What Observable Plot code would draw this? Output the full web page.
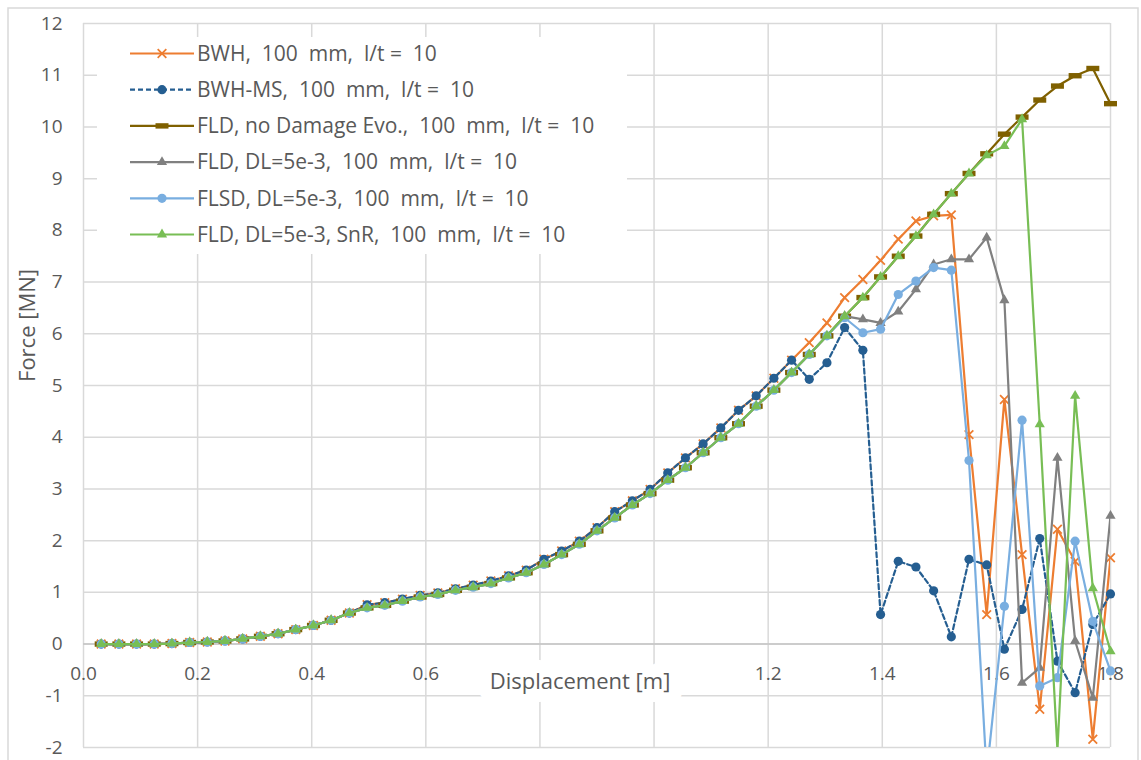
<!DOCTYPE html>
<html><head><meta charset="utf-8">
<script src="https://cdn.jsdelivr.net/npm/d3@7"></script>
<script src="https://cdn.jsdelivr.net/npm/@observablehq/plot@0.6"></script>
<style>
body{margin:0;background:#fff;}
#chart{position:relative;width:1141px;height:760px;overflow:hidden;}
#chart svg{position:absolute;left:0;top:0;}
</style></head><body><div id="chart"></div>
<script>
const displacement = [0.031,0.062,0.093,0.124,0.155,0.186,0.217,0.248,0.279,0.310,0.341,0.372,0.403,0.434,0.466,0.497,0.528,0.559,0.590,0.621,0.652,0.683,0.714,0.745,0.776,0.807,0.838,0.869,0.900,0.931,0.962,0.993,1.024,1.055,1.086,1.117,1.148,1.179,1.210,1.241,1.272,1.303,1.334,1.366,1.397,1.428,1.459,1.490,1.521,1.552,1.583,1.614,1.645,1.676,1.707,1.738,1.769,1.800];

const bwh = [0.00,0.00,0.00,0.00,0.01,0.03,0.04,0.06,0.10,0.15,0.20,0.28,0.36,0.46,0.60,0.76,0.80,0.87,0.94,0.99,1.07,1.14,1.22,1.32,1.43,1.64,1.80,1.99,2.25,2.56,2.77,2.99,3.31,3.60,3.87,4.18,4.52,4.80,5.14,5.49,5.83,6.21,6.70,7.05,7.42,7.83,8.18,8.28,8.30,4.05,0.57,4.73,1.73,-1.26,2.22,1.60,-1.84,1.67];
const bwhMs = [0.00,0.00,0.00,0.00,0.01,0.03,0.04,0.06,0.10,0.15,0.20,0.28,0.36,0.46,0.60,0.76,0.80,0.87,0.94,0.99,1.07,1.14,1.22,1.32,1.43,1.64,1.80,1.99,2.25,2.56,2.77,2.99,3.31,3.60,3.87,4.18,4.52,4.80,5.14,5.49,5.12,5.44,6.12,5.68,0.57,1.60,1.49,1.03,0.14,1.64,1.53,-0.10,0.67,2.04,-0.33,-0.94,0.38,0.97];
const fldNoDamage = [0.00,0.00,0.00,0.00,0.01,0.03,0.04,0.06,0.10,0.15,0.20,0.28,0.36,0.46,0.60,0.70,0.75,0.83,0.91,0.96,1.04,1.10,1.17,1.28,1.38,1.54,1.73,1.93,2.19,2.44,2.69,2.91,3.17,3.41,3.70,3.99,4.26,4.60,4.91,5.25,5.60,5.96,6.34,6.70,7.10,7.50,7.89,8.31,8.71,9.10,9.48,9.86,10.19,10.52,10.79,10.99,11.13,10.45];
const fldDl = [0.00,0.00,0.00,0.00,0.01,0.03,0.04,0.06,0.10,0.15,0.20,0.28,0.36,0.46,0.60,0.70,0.75,0.83,0.91,0.96,1.04,1.10,1.17,1.28,1.38,1.54,1.73,1.93,2.19,2.44,2.69,2.91,3.17,3.41,3.70,3.99,4.26,4.60,4.91,5.25,5.60,5.96,6.34,6.28,6.21,6.43,6.86,7.34,7.44,7.44,7.86,6.65,-0.75,-0.46,3.60,0.06,-1.04,2.48];
const flsdDl = [0.00,0.00,0.00,0.00,0.01,0.03,0.04,0.06,0.10,0.15,0.20,0.28,0.36,0.46,0.60,0.70,0.75,0.83,0.91,0.96,1.04,1.10,1.17,1.28,1.38,1.54,1.73,1.93,2.19,2.44,2.69,2.91,3.17,3.41,3.70,3.99,4.26,4.60,4.91,5.25,5.60,5.96,6.31,6.02,6.09,6.76,7.02,7.28,7.23,3.55,-2.50,0.73,4.33,-0.81,-0.65,1.99,0.44,-0.52];
const fldDlSnr = [0.00,0.00,0.00,0.00,0.01,0.03,0.04,0.06,0.10,0.15,0.20,0.28,0.36,0.46,0.60,0.70,0.75,0.83,0.91,0.96,1.04,1.10,1.17,1.28,1.38,1.54,1.73,1.93,2.19,2.44,2.69,2.91,3.17,3.41,3.70,3.99,4.26,4.60,4.91,5.25,5.60,5.96,6.34,6.70,7.10,7.50,7.89,8.31,8.71,9.10,9.45,9.63,10.15,4.25,-2.05,4.80,1.08,-0.14];

const seriesNames = [
  "BWH,  100  mm,  l/t =  10",
  "BWH-MS,  100  mm,  l/t =  10",
  "FLD, no Damage Evo.,  100  mm,  l/t =  10",
  "FLD, DL=5e-3,  100  mm,  l/t =  10",
  "FLSD, DL=5e-3,  100  mm,  l/t =  10",
  "FLD, DL=5e-3, SnR,  100  mm,  l/t =  10"
];
const xGrid = [0,0.2,0.4,0.6,0.8,1.0,1.2,1.4,1.6,1.8];
// 0.8 and 1.0 labels are hidden behind the axis title in the original
const xTickLabels = [0,0.2,0.4,0.6,1.2,1.4,1.6,1.8];
const yTicks = [-2,-1,0,1,2,3,4,5,6,7,8,9,10,11,12];
const xTitle = "Displacement [m]";
const yTitle = "Force [MN]";

const dashSymbol = {draw(ctx){ ctx.moveTo(-6.5,-2.7); ctx.lineTo(6.5,-2.7); ctx.lineTo(6.5,2.7); ctx.lineTo(-6.5,2.7); ctx.closePath(); }};

const series = [
  {values: bwh, color: "#ED7D31", dash: null, symbol: "times", r: 4, hollow: true},
  {values: bwhMs, color: "#255E91", dash: "5,3", symbol: "circle", r: 4.6, hollow: false},
  {values: fldNoDamage, color: "#7F6000", dash: null, symbol: dashSymbol, r: 4, hollow: false},
  {values: fldDl, color: "#808080", dash: null, symbol: "triangle", r: 3.8, hollow: false},
  {values: flsdDl, color: "#79AEE0", dash: null, symbol: "circle", r: 4.6, hollow: false},
  {values: fldDlSnr, color: "#78BE55", dash: null, symbol: "triangle", r: 3.8, hollow: false}
];

const textColor = "#595959";
const marks = [
  Plot.gridX(xGrid, {stroke: "#d9d9d9", strokeOpacity: 1, strokeWidth: 1.5}),
  Plot.gridY(yTicks, {stroke: "#d9d9d9", strokeOpacity: 1, strokeWidth: 1.5}),
  Plot.ruleY([0], {stroke: "#c4c4c4", strokeWidth: 1.5}),
  Plot.axisY(yTicks, {tickSize: 0, tickPadding: 21, fontSize: 19, color: textColor, label: null, tickFormat: d => String(d)}),
  Plot.text(xTickLabels, {x: d => d, y: 0, dy: 30, text: d => d.toFixed(1), fontSize: 19, fill: textColor}),
  Plot.text([xTitle], {frameAnchor: "bottom", dx: -17, dy: -59, fontSize: 22, fill: textColor, stroke: "white", strokeWidth: 26, paintOrder: "stroke", strokeLinejoin: "round"}),
  Plot.text([yTitle], {frameAnchor: "left", textAnchor: "middle", rotate: -90, dx: -56, dy: -60, fontSize: 22, fill: textColor})
];

for (const s of series) {
  const data = displacement.map((x, i) => ({x, y: s.values[i]}));
  marks.push(Plot.line(data, {x: "x", y: "y", stroke: s.color, strokeWidth: 2.2, strokeDasharray: s.dash, clip: true}));
  marks.push(Plot.dot(data, {
    x: "x", y: "y", symbol: s.symbol, r: s.r,
    fill: s.hollow ? "none" : s.color,
    stroke: s.hollow ? s.color : "none",
    strokeWidth: 1.8,
    filter: d => d.y >= -2
  }));
}

const chart = Plot.plot({
  width: 1141, height: 760,
  marginLeft: 83, marginRight: 31, marginTop: 23, marginBottom: 13,
  x: {domain: [0, 1.8], axis: null},
  y: {domain: [-2, 12], axis: null},
  style: {fontFamily: "'Open Sans', sans-serif", background: "white"},
  marks
});
document.getElementById("chart").appendChild(chart);

// outer chart border
const svg = d3.select(chart);
svg.insert("rect", ":first-child").attr("x", 8).attr("y", 8).attr("width", 1130).attr("height", 780)
  .attr("fill", "none").attr("stroke", "#d9d9d9").attr("stroke-width", 1.5);

// legend
const lg = svg.append("g").attr("font-family", "'Open Sans', sans-serif").attr("font-size", 21)
  .attr("fill", textColor).attr("text-anchor", "start");
lg.append("rect").attr("x", 97).attr("y", 37).attr("width", 530).attr("height", 217).attr("fill", "white");
series.forEach((s, i) => {
  const y = 53.5 + i * 36.2;
  lg.append("line").attr("x1", 130).attr("x2", 194).attr("y1", y).attr("y2", y)
    .attr("stroke", s.color).attr("stroke-width", 2.2).attr("stroke-dasharray", s.dash);
  const sym = typeof s.symbol === "string" ? ({circle: d3.symbolCircle, triangle: d3.symbolTriangle, times: d3.symbolTimes})[s.symbol] : s.symbol;
  lg.append("path").attr("transform", `translate(162,${y})`)
    .attr("d", d3.symbol(sym, Math.PI * s.r * s.r)())
    .attr("fill", s.hollow ? "none" : s.color).attr("stroke", s.hollow ? s.color : "none").attr("stroke-width", 1.8);
  lg.append("text").attr("x", 197).attr("y", y).attr("dy", "0.35em").attr("text-anchor", "start")
    .style("white-space", "pre").text(seriesNames[i]);
});
</script></body></html>
